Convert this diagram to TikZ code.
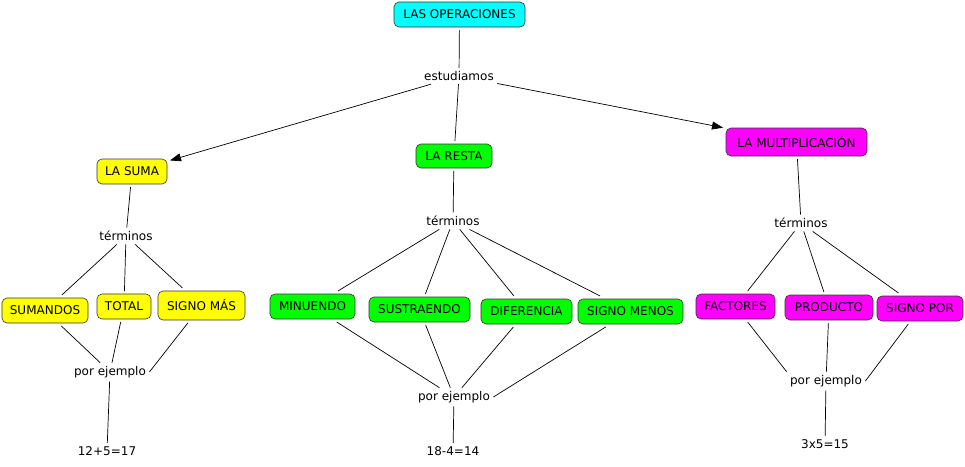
\documentclass[tikz,border=0pt]{standalone}
\usepackage{fontspec}
\setmainfont{DejaVu Sans}
\usetikzlibrary{arrows.meta}
\definecolor{ccyan}{RGB}{0,255,255}
\definecolor{cyell}{RGB}{255,255,0}
\definecolor{cgreen}{RGB}{0,255,0}
\definecolor{cmag}{RGB}{255,0,255}
\begin{document}
\begin{tikzpicture}[x=1pt,y=-1pt,
  concept/.style={draw=black!80, line width=0.6pt, rounded corners=5pt, inner sep=1pt, outer sep=3pt, font=\fontsize{12}{14}\selectfont, align=center},
  lbl/.style={inner sep=1pt, outer sep=2.5pt, font=\fontsize{12}{14}\selectfont},
  link/.style={draw=black, line width=0.7pt},
  arr/.style={link, -{Triangle[length=11pt,width=8pt]}}]
\useasboundingbox[fill=white] (0,0) rectangle (965,466);
% top
\node[concept, fill=ccyan, minimum width=131pt, minimum height=25pt] (ops) at (459.5,14.5) {LAS OPERACIONES};
\node[lbl] (est) at (459,76) {estudiamos};
\node[concept, fill=cyell, minimum width=70pt, minimum height=25pt] (suma) at (132,171.5) {LA SUMA};
\node[concept, fill=cgreen, minimum width=76pt, minimum height=24pt] (resta) at (454,156) {LA RESTA};
\node[concept, fill=cmag, minimum width=141pt, minimum height=28pt] (mult) at (796.5,142) {LA MULTIPLICACIÓN};
% left
\node[lbl] (t1) at (126,236) {términos};
\node[concept, fill=cyell, minimum width=86pt, minimum height=25pt] (sumandos) at (45,310.5) {SUMANDOS};
\node[concept, fill=cyell, minimum width=54pt, minimum height=25pt] (total) at (124,306.5) {TOTAL};
\node[concept, fill=cyell, minimum width=87pt, minimum height=29pt] (smas) at (201.5,305.5) {SIGNO MÁS};
\node[lbl] (pe1) at (110,372) {por ejemplo};
\node[lbl] (r1) at (107,451) {12+5=17};
% middle
\node[lbl] (t2) at (453,221) {términos};
\node[concept, fill=cgreen, minimum width=85pt, minimum height=25pt] (min) at (312.5,306.5) {MINUENDO};
\node[concept, fill=cgreen, minimum width=101pt, minimum height=25pt] (sus) at (419.5,309.5) {SUSTRAENDO};
\node[concept, fill=cgreen, minimum width=91pt, minimum height=25pt] (dif) at (526.5,311.5) {DIFERENCIA};
\node[concept, fill=cgreen, minimum width=105pt, minimum height=25pt] (smen) at (630.5,311.5) {SIGNO MENOS};
\node[lbl] (pe2) at (454,397) {por ejemplo};
\node[lbl] (r2) at (453,451) {18-4=14};
% right
\node[lbl] (t3) at (801,223) {términos};
\node[concept, fill=cmag, minimum width=79pt, minimum height=25pt] (fac) at (735.5,306.5) {FACTORES};
\node[concept, fill=cmag, minimum width=88pt, minimum height=25pt] (prod) at (829,307.5) {PRODUCTO};
\node[concept, fill=cmag, minimum width=86pt, minimum height=25pt] (spor) at (920,308.5) {SIGNO POR};
\node[lbl] (pe3) at (826,381) {por ejemplo};
\node[lbl] (r3) at (825,444) {3x5=15};
% connectors top
\draw[link] (ops) -- (est);
\draw[arr] (est) -- (suma);
\draw[link] (est) -- (resta);
\draw[arr] (est) -- (mult);
% left
\draw[link] (suma) -- (t1);
\draw[link] (t1) -- (sumandos);
\draw[link] (t1) -- (total);
\draw[link] (t1) -- (smas);
\draw[link] (sumandos) -- (pe1);
\draw[link] (total) -- (pe1);
\draw[link] (smas) -- (pe1.east);
\draw[link] (pe1) -- (r1);
% middle
\draw[link] (resta) -- (t2);
\draw[link] (t2) -- (min);
\draw[link] (t2) -- (sus);
\draw[link] (t2) -- (dif);
\draw[link] (t2) -- (smen);
\draw[link] (min) -- (pe2);
\draw[link] (sus) -- (pe2);
\draw[link] (dif) -- (pe2);
\draw[link] (smen) -- (pe2.east);
\draw[link] (pe2) -- (r2);
% right
\draw[link] (mult) -- (t3);
\draw[link] (t3) -- (fac);
\draw[link] (t3) -- (prod);
\draw[link] (t3) -- (spor);
\draw[link] (fac) -- (pe3.north west);
\draw[link] (prod) -- (pe3);
\draw[link] (spor) -- (pe3.east);
\draw[link] (pe3) -- (r3);
\end{tikzpicture}
\end{document}
